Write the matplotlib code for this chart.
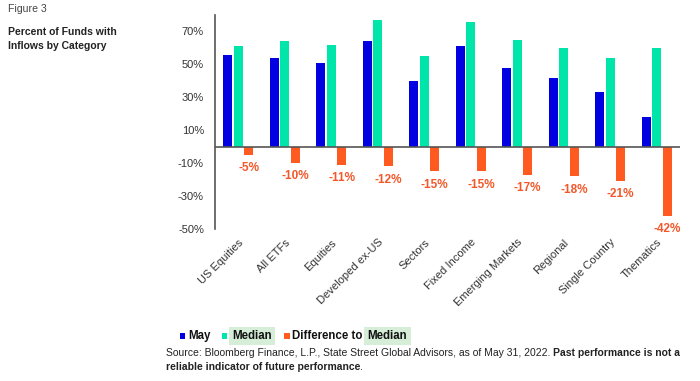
import matplotlib
matplotlib.use('Agg')
import matplotlib.pyplot as plt
from matplotlib.patches import Rectangle
import numpy as np

categories = ['US Equities', 'All ETFs', 'Equities', 'Developed ex-US', 'Sectors',
              'Fixed Income', 'Emerging Markets', 'Regional', 'Single Country', 'Thematics']
may = [56, 54, 51, 64.5, 40, 61, 47.5, 42, 33.5, 18]
median = [61, 64, 62, 77, 55, 76, 65, 60, 54, 60]
diff = [-5, -10, -11, -12, -15, -15, -17, -18, -21, -42]
yticks = [70, 50, 30, 10, -10, -30, -50]

BLUE = '#0000E0'
TEAL = '#00E6AA'
ORANGE = '#FF5A1F'
LABEL_ORANGE = '#F2582A'
AXIS = '#555555'
HILITE = '#d6eed8'

plt.rcParams['font.family'] = ['Liberation Sans', 'DejaVu Sans']
W, H = 700, 381
fig = plt.figure(figsize=(W / 100, H / 100), dpi=100)
ax = fig.add_axes([215 / W, 1 - 229 / H, (680 - 215) / W, (229 - 15) / H])

x = np.arange(len(categories)) + 0.5
w = 0.185
off = 0.225
ax.bar(x - off, may, w, color=BLUE, zorder=2)
ax.bar(x, median, w, color=TEAL, zorder=2)
ax.bar(x + off, diff, w, color=ORANGE, zorder=2)
for xi, d in zip(x, diff):
    ax.annotate(f'{d}%', (xi + off, d), xytext=(0, -9.5), textcoords='offset points',
                ha='center', va='center', color=LABEL_ORANGE, fontsize=8.5, fontweight='bold')

ax.set_xlim(0, len(categories))
ax.set_ylim(-50, 80)
ax.axhline(0, color=AXIS, lw=1.2, zorder=3)
for s in ['top', 'right', 'bottom']:
    ax.spines[s].set_visible(False)
ax.spines['left'].set_color(AXIS)
ax.spines['left'].set_linewidth(1.2)
ax.set_yticks(yticks)
ax.set_yticklabels([f'{t}%' for t in yticks], fontsize=8, color='#333333')
ax.set_xticks(x)
ax.set_xticklabels(categories, rotation=45, ha='right', va='top', rotation_mode='anchor',
                   fontsize=8, color='#333333')
ax.tick_params(axis='y', length=0, pad=8)
ax.tick_params(axis='x', length=0, pad=6)

def px(xp, yp):
    return xp / W, 1 - yp / H

fig.text(*px(8, 9), 'Figure 3', fontsize=7.6, color='#444444', va='center')
fig.text(*px(8, 32), 'Percent of Funds with', fontsize=7.5, fontweight='bold', color='#222222', va='center')
fig.text(*px(8, 46), 'Inflows by Category', fontsize=7.5, fontweight='bold', color='#222222', va='center')

# legend
ly = 336
for xs, c in [(180, BLUE), (222, TEAL), (284, ORANGE)]:
    fig.add_artist(Rectangle(px(xs, ly + 3), 5.5 / W, 6 / H, transform=fig.transFigure,
                             color=c, lw=0))
lkw = dict(fontsize=8.3, fontweight='bold', color='#111111', va='center')
fig.text(*px(188, ly), 'May', **lkw)
fig.text(*px(232, ly), 'Median', bbox=dict(facecolor=HILITE, edgecolor='none', pad=2.5), **lkw)
fig.canvas.draw()
r = fig.canvas.get_renderer()
t3 = fig.text(*px(292, ly), 'Difference to', **lkw)
bb = t3.get_window_extent(r)
fig.text((bb.x1 + 5) / W, 1 - ly / H, 'Median', bbox=dict(facecolor=HILITE, edgecolor='none', pad=2.5), **lkw)

# source
skw = dict(fontsize=7.5, color='#222222', va='center')
s1 = fig.text(*px(166, 353), 'Source: Bloomberg Finance, L.P., State Street Global Advisors, as of May 31, 2022. ', **skw)
bb = s1.get_window_extent(r)
fig.text(bb.x1 / W, 1 - 353 / H, 'Past performance is not a', fontweight='bold', **skw)
s2 = fig.text(*px(166, 367), 'reliable indicator of future performance', fontweight='bold', **skw)
bb = s2.get_window_extent(r)
fig.text(bb.x1 / W, 1 - 367 / H, '.', **skw)

fig.savefig('out.png', dpi=100)
